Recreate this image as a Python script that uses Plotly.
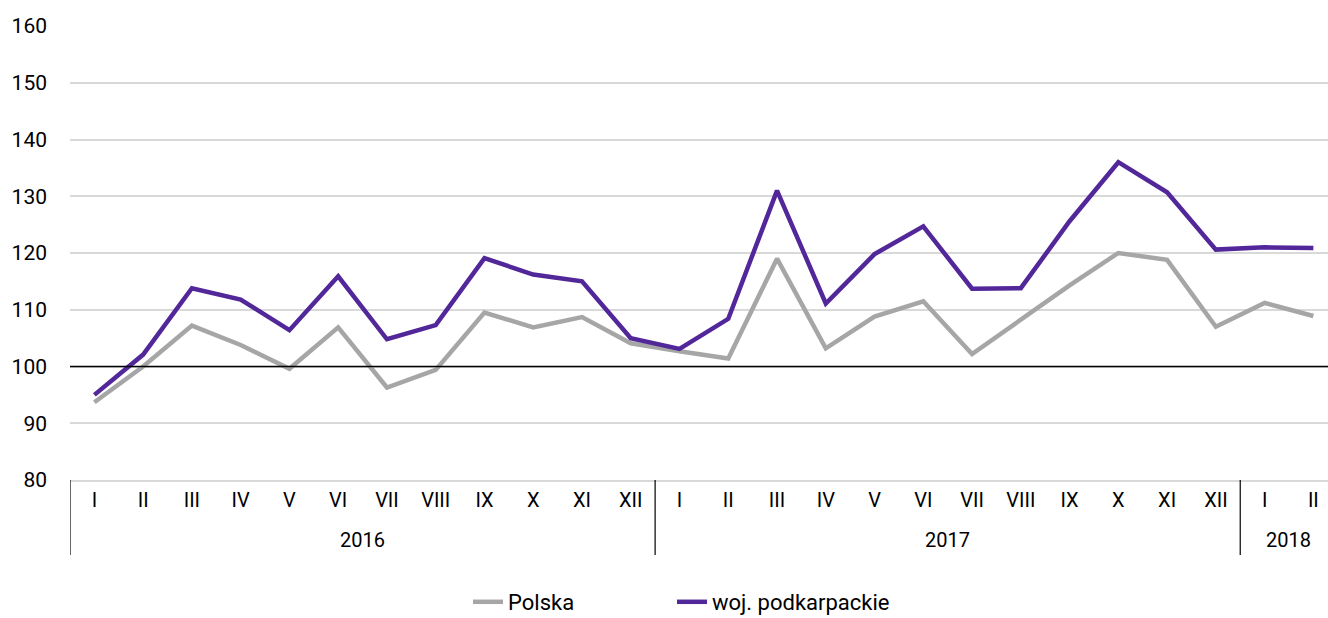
import plotly.graph_objects as go

# months as roman numerals, grouped by year
months = ["I", "II", "III", "IV", "V", "VI", "VII", "VIII", "IX", "X", "XI", "XII"]
year_groups = [("2016", 12), ("2017", 12), ("2018", 2)]
month_labels = months + months + ["I", "II"]

polska = [
    93.7, 100.0, 107.2, 103.8, 99.6, 106.9, 96.3, 99.4, 109.5, 106.9, 108.7, 104.1,
    102.7, 101.4, 119.0, 103.2, 108.8, 111.5, 102.2, 108.2, 114.3, 120.0, 118.8, 107.0,
    111.2, 108.9,
]
podkarpackie = [
    95.0, 102.1, 113.8, 111.8, 106.4, 115.9, 104.8, 107.3, 119.1, 116.2, 115.0, 105.0,
    103.1, 108.4, 131.0, 111.1, 119.8, 124.7, 113.7, 113.8, 125.6, 136.0, 130.7, 120.6,
    121.0, 120.9,
]

font_family = "Roboto, sans-serif"
W, H = 1328, 618
mt, mb = 26, 138
plot_h = H - mt - mb

x = list(range(len(month_labels)))

fig = go.Figure()
fig.add_trace(go.Scatter(
    x=x, y=polska, name="Polska", mode="lines",
    line=dict(color="#a6a6a6", width=4.5), legend="legend",
))
fig.add_trace(go.Scatter(
    x=x, y=podkarpackie, name="woj. podkarpackie", mode="lines",
    line=dict(color="#52279a", width=4.5), legend="legend2",
))

# reference line at 100
fig.add_shape(type="line", xref="paper", x0=0, x1=1, yref="y", y0=100, y1=100,
              line=dict(color="black", width=1.5), layer="above")

# year groups: dividers and centred labels under the month labels
start = 0
div_bottom = -75 / plot_h
for year, n in year_groups:
    fig.add_shape(type="line", xref="x", x0=start - 0.5, x1=start - 0.5,
                  yref="paper", y0=0, y1=div_bottom,
                  line=dict(color="black", width=1.2))
    fig.add_annotation(x=(start + start + n - 1) / 2, xref="x",
                       y=-60 / plot_h, yref="paper", yanchor="middle",
                       text=year, showarrow=False, font=dict(size=20))
    start += n

legend_common = dict(orientation="h", xanchor="left", xref="container",
                     y=16 / H, yanchor="middle", yref="container",
                     font=dict(size=22))

fig.update_layout(
    width=W, height=H,
    margin=dict(l=70, r=0, t=mt, b=mb, autoexpand=False),
    plot_bgcolor="white", paper_bgcolor="white",
    font=dict(family=font_family, size=20, color="black"),
    showlegend=True,
    legend=dict(x=468 / W, **legend_common),
    legend2=dict(x=672 / W, **legend_common),
    xaxis=dict(
        range=[-0.5, 25.3], tickmode="array", tickvals=x, ticktext=month_labels,
        showgrid=False, showline=True, linecolor="#d9d9d9", linewidth=1.5,
        zeroline=False, ticks="", ticklabelstandoff=1, automargin=False,
        tickfont=dict(size=20),
    ),
    yaxis=dict(
        range=[80, 160], dtick=10, showgrid=True, gridcolor="#d9d9d9", gridwidth=1.5,
        zeroline=False, showline=False, ticks="", ticklabelstandoff=22,
        automargin=False, tickfont=dict(size=21),
    ),
)

# drop the page's default body margin so the figure sits at the window corner
fig.write_html("out.html", config={"displayModeBar": False},
               post_script="document.body.style.margin = '0';")
